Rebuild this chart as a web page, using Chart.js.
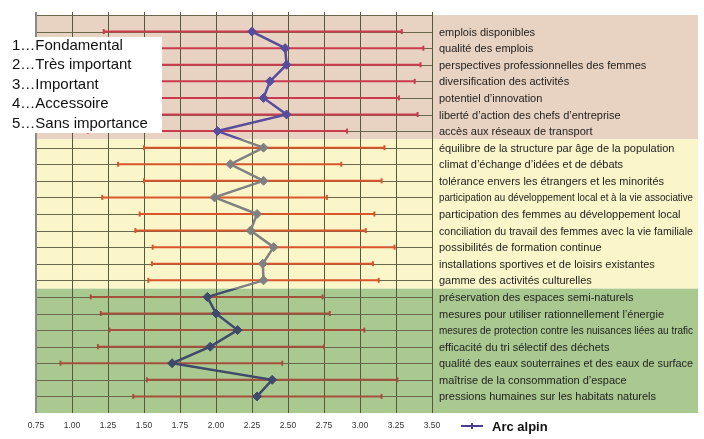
<!DOCTYPE html>
<html>
<head>
<meta charset="utf-8">
<script src="https://cdn.jsdelivr.net/npm/chart.js@4"></script>
<style>
    body { margin: 0; background: #fff; }
    canvas { display: block; }
</style>
</head>
<body>
<canvas id="chart" width="704" height="439"></canvas>
<script>
// Data
const categories = [
    'emplois disponibles',
    'qualité des emplois',
    'perspectives professionnelles des femmes',
    'diversification des activités',
    'potentiel d\u2019innovation',
    'liberté d\u2019action des chefs d\u2019entreprise',
    'accès aux réseaux de transport',
    'équilibre de la structure par âge de la population',
    'climat d\u2019échange d\u2019idées et de débats',
    'tolérance envers les étrangers et les minorités',
    'participation au développement local et à la vie associative',
    'participation des femmes au développement local',
    'conciliation du travail des femmes avec la vie familiale',
    'possibilités de formation continue',
    'installations sportives et de loisirs existantes',
    'gamme des activités culturelles',
    'préservation des espaces semi-naturels',
    'mesures pour utiliser rationnellement l\u2019énergie',
    'mesures de protection contre les nuisances liées au trafic',
    'efficacité du tri sélectif des déchets',
    'qualité des eaux souterraines et des eaux de surface',
    'maîtrise de la consommation d\u2019espace',
    'pressions humaines sur les habitats naturels'
];
const groups = [0, 0, 0, 0, 0, 0, 0, 1, 1, 1, 1, 1, 1, 1, 1, 1, 2, 2, 2, 2, 2, 2, 2];
const means = [2.25, 2.48, 2.49, 2.375, 2.33, 2.49, 2.01,
    2.33, 2.10, 2.33, 1.99, 2.285, 2.24, 2.40, 2.325, 2.33,
    1.94, 2.00, 2.15, 1.96, 1.695, 2.39, 2.285];
const lows = [1.22, 1.52, 1.56, 1.37, 1.39, 1.58, 1.11,
    1.50, 1.32, 1.50, 1.21, 1.47, 1.44, 1.56, 1.555, 1.53,
    1.13, 1.20, 1.26, 1.18, 0.92, 1.52, 1.425];
const highs = [3.29, 3.44, 3.42, 3.38, 3.27, 3.40, 2.91,
    3.17, 2.87, 3.15, 2.77, 3.10, 3.04, 3.24, 3.09, 3.13,
    2.74, 2.79, 3.03, 2.75, 2.46, 3.26, 3.15];
const xTicks = [0.75, 1.00, 1.25, 1.50, 1.75, 2.00, 2.25, 2.50, 2.75, 3.00, 3.25, 3.50];
const seriesLabel = 'Arc alpin';
const scaleLabels = ['1\u2026Fondamental', '2\u2026Très important', '3\u2026Important', '4\u2026Accessoire', '5\u2026Sans importance'];

// Colours per group (economy, society, environment)
const bandColors = ['#e8d3c2', '#fbf6ca', '#aac990'];
const meanColors = ['#584c9c', '#808080', '#3f4a6a'];
const barColors = ['#cc3a4e', '#d9552c', '#a4503c'];
const bandBounds = [0, 7.5, 16.5, 24];

const FONT = "'Liberation Sans', Arial, sans-serif";

// error bars as one line dataset broken by gaps
const barData = [];
const barPointColors = [];
lows.forEach((lo, i) => {
    barData.push({ x: lo, y: i + 1 }, { x: highs[i], y: i + 1 }, { x: null, y: null });
    const c = barColors[groups[i]];
    barPointColors.push(c, c, c);
});

// line colour changes where it crosses a band boundary
function bandGradient(context) {
    const chart = context.chart;
    const area = chart.chartArea;
    if (!area) return meanColors[0];
    const y = chart.scales.y;
    const g = chart.ctx.createLinearGradient(0, area.top, 0, area.bottom);
    const h = area.bottom - area.top;
    for (let i = 0; i < 3; i++) {
        const a = (y.getPixelForValue(bandBounds[i]) - area.top) / h;
        const b = (y.getPixelForValue(bandBounds[i + 1]) - area.top) / h;
        g.addColorStop(Math.max(0, Math.min(1, a)), meanColors[i]);
        g.addColorStop(Math.max(0, Math.min(1, b)), meanColors[i]);
    }
    return g;
}

const backdrop = {
    id: 'backdrop',
    beforeDraw(chart) {
        const { ctx, chartArea, scales } = chart;
        const y = scales.y;
        ctx.save();
        for (let g = 0; g < 3; g++) {
            const top = y.getPixelForValue(bandBounds[g]);
            const bottom = y.getPixelForValue(bandBounds[g + 1]);
            ctx.fillStyle = bandColors[g];
            ctx.fillRect(chartArea.left, top, chartArea.right - chartArea.left, bottom - top);
        }
        ctx.restore();
    },
    beforeDatasetsDraw(chart) {
        const { ctx, chartArea, scales } = chart;
        const x = scales.x, y = scales.y;
        const x0 = x.getPixelForValue(xTicks[0]);
        const x1 = x.getPixelForValue(xTicks[xTicks.length - 1]);
        ctx.save();
        ctx.strokeStyle = '#6a684c';
        ctx.lineWidth = 1;
        for (let r = 0; r <= categories.length; r++) {
            const py = Math.round(y.getPixelForValue(r)) + 0.5;
            ctx.beginPath();
            ctx.moveTo(x0, py);
            ctx.lineTo(x1, py);
            ctx.stroke();
        }
        // small ticks above the grid
        ctx.strokeStyle = '#55583a';
        xTicks.forEach(v => {
            const px = Math.round(x.getPixelForValue(v)) + 0.5;
            ctx.beginPath();
            ctx.moveTo(px, chartArea.top - 3);
            ctx.lineTo(px, chartArea.top);
            ctx.stroke();
        });
        // left axis
        ctx.strokeStyle = '#8a8a8a';
        ctx.lineWidth = 2;
        ctx.beginPath();
        ctx.moveTo(x0, chartArea.top - 3);
        ctx.lineTo(x0, chartArea.bottom);
        ctx.stroke();
        ctx.restore();
    },
    afterDraw(chart) {
        const { ctx, scales } = chart;
        const x = scales.x, y = scales.y;
        const tx = x.getPixelForValue(xTicks[xTicks.length - 1]) + 7;
        ctx.save();
        // category labels to the right of the grid
        ctx.fillStyle = '#222';
        ctx.font = '11px ' + FONT;
        ctx.textBaseline = 'middle';
        categories.forEach((c, i) => {
            ctx.fillText(c, tx, y.getPixelForValue(i + 1) + 1, 254);
        });

        // importance scale box
        ctx.fillStyle = '#fff';
        ctx.fillRect(0, 37, 162, 96);
        ctx.fillStyle = '#111';
        ctx.font = '15px ' + FONT;
        ctx.textBaseline = 'alphabetic';
        scaleLabels.forEach((s, i) => {
            ctx.fillText(s, 12, 50 + i * 19.4);
        });

        // series legend
        const ly = 426;
        ctx.strokeStyle = '#4b3d8f';
        ctx.lineWidth = 2;
        ctx.beginPath();
        ctx.moveTo(461, ly);
        ctx.lineTo(483, ly);
        ctx.moveTo(472, ly - 3);
        ctx.lineTo(472, ly + 3);
        ctx.stroke();
        ctx.fillStyle = '#111';
        ctx.font = 'bold 13px ' + FONT;
        ctx.textBaseline = 'middle';
        ctx.fillText(seriesLabel, 492, ly + 1);
        ctx.restore();
    }
};

new Chart(document.getElementById('chart'), {
    type: 'line',
    data: {
        datasets: [{
            label: seriesLabel,
            data: means.map((m, i) => ({ x: m, y: i + 1 })),
            borderWidth: 2.5,
            borderColor: bandGradient,
            pointStyle: 'rectRot',
            pointRadius: 4.5,
            pointBackgroundColor: groups.map(g => meanColors[g]),
            pointBorderColor: groups.map(g => meanColors[g]),
            pointBorderWidth: 1,
            order: 0
        }, {
            label: 'écart',
            data: barData,
            borderWidth: 2,
            spanGaps: false,
            pointStyle: 'line',
            pointRotation: 90,
            pointRadius: 2.5,
            pointBorderWidth: 2,
            pointBorderColor: barPointColors,
            pointBackgroundColor: barPointColors,
            segment: {
                borderColor: c => barPointColors[c.p0DataIndex]
            },
            order: 1
        }]
    },
    plugins: [backdrop],
    options: {
        responsive: false,
        animation: false,
        layout: { padding: { left: 36, top: 15, right: 6, bottom: 0 } },
        plugins: {
            legend: { display: false },
            tooltip: { enabled: false }
        },
        scales: {
            x: {
                type: 'linear',
                min: 0.75,
                max: 0.75 + 662 / 144,
                afterBuildTicks: scale => {
                    scale.ticks = xTicks.map(v => ({ value: v }));
                },
                afterFit: scale => { scale.height = 26; },
                grid: { color: '#55583a', lineWidth: 1, drawTicks: false },
                border: { display: false },
                ticks: {
                    padding: 8,
                    color: '#333',
                    font: { size: 8.5, family: FONT },
                    callback: v => v.toFixed(2)
                }
            },
            y: {
                type: 'linear',
                display: false,
                reverse: true,
                min: 0,
                max: 24
            }
        }
    }
});
</script>
</body>
</html>
